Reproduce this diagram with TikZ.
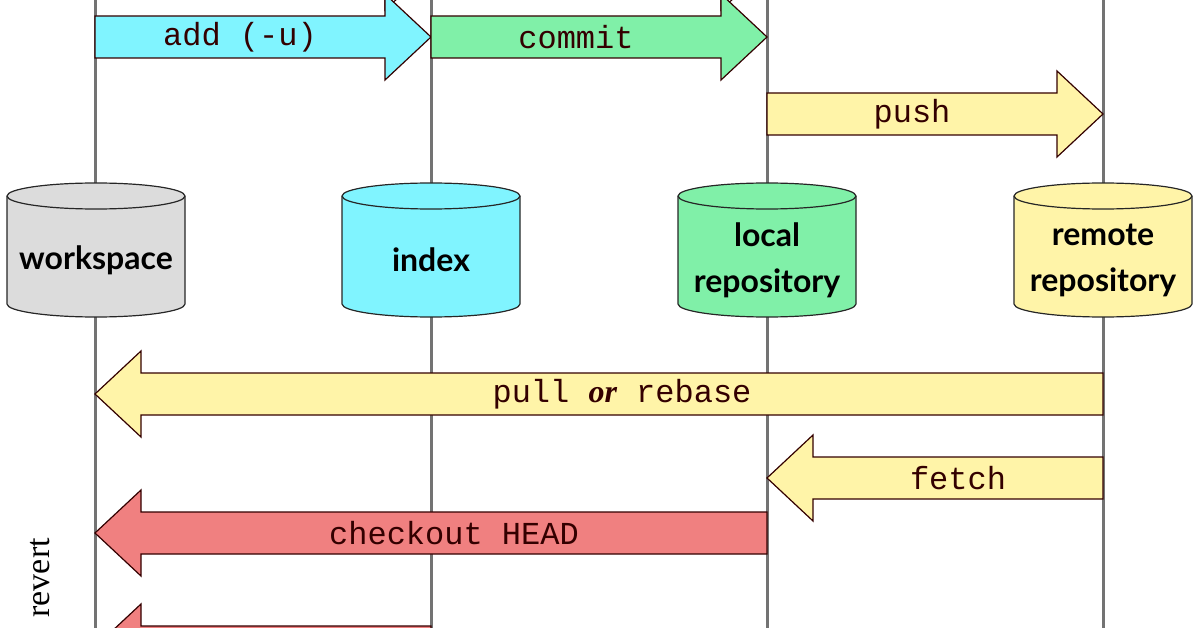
\documentclass[tikz,border=0pt]{standalone}
\usepackage{fontspec}
\setmainfont{Lato}
\newfontfamily\monof{Liberation Mono}
\newfontfamily\serf{Liberation Serif}
\definecolor{cgray}{HTML}{DCDCDC}
\definecolor{ccyan}{HTML}{80F4FF}
\definecolor{cgreen}{HTML}{80F0A8}
\definecolor{cyel}{HTML}{FFF4A8}
\definecolor{cred}{HTML}{F08080}
\newcommand\rarr[5]{% x1,x2,y,color,label
  \fill[#4,draw=black!80!red,line width=1.2pt] (#1,-#3+21) -- (#2-46,-#3+21) -- (#2-46,-#3+43) -- (#2,-#3) -- (#2-46,-#3-43) -- (#2-46,-#3-21) -- (#1,-#3-21) -- cycle;
  \node[lbl] at ({(#1+#2-46)/2},-#3) {#5};}
\newcommand\larr[5]{% x1(tip),x2,y,color,label
  \fill[#4,draw=black!80!red,line width=1.2pt] (#2,-#3+21) -- (#1+46,-#3+21) -- (#1+46,-#3+43) -- (#1,-#3) -- (#1+46,-#3-43) -- (#1+46,-#3-21) -- (#2,-#3-21) -- cycle;
  \node[lbl] at ({(#1+46+#2)/2},-#3) {#5};}
\newcommand\cyl[4]{% cx,color,name,label
  \fill[#2,draw=black!85,line width=1.2pt] (#1-89,-196) -- (#1-89,-304) arc[start angle=180,end angle=360,x radius=89,y radius=13] -- (#1+89,-196) arc[start angle=0,end angle=180,x radius=89,y radius=13] -- cycle;
  \draw[black!85,line width=1.2pt] (#1-89,-196) arc[start angle=180,end angle=360,x radius=89,y radius=13];
  \node[cyl] (#3) at (#1,-260) {#4};}
\begin{document}
\begin{tikzpicture}[x=1pt,y=1pt,
  lbl/.style={font=\monof\fontsize{32}{32}\selectfont,text=black!80!red,inner sep=0},
  cyl/.style={font=\bfseries\fontsize{32}{46}\selectfont,align=center,inner sep=0}]
\useasboundingbox (0,0) rectangle (1196,-628);
\clip (0,0) rectangle (1196,-628);
\foreach \x in {95,431,767,1103} \draw[gray!90!black,line width=3pt] (\x,0) -- (\x,-628);
\rarr{95}{431}{-33}{white}{}
\rarr{431}{767}{-33}{white}{}
\rarr{95}{431}{37}{ccyan}{add (-u)}
\rarr{431}{767}{37}{cgreen}{commit}
\rarr{767}{1103}{114}{cyel}{push}
\cyl{96}{cgray}{ws}{workspace}
\cyl{431}{ccyan}{idx}{index}
\cyl{767}{cgreen}{lr}{local\\repository}
\cyl{1103}{cyel}{rr}{remote\\repository}
\larr{95}{1103}{394}{cyel}{pull {\serf\itshape\bfseries or} rebase}
\larr{767}{1103}{478}{cyel}{fetch}
\larr{95}{767}{533}{cred}{checkout HEAD}
\larr{95}{431}{647}{cred}{}
\node[rotate=90,font=\serf\fontsize{34}{34}\selectfont,anchor=east,inner sep=0] (rv) at (40,-538) {revert};
\end{tikzpicture}
\end{document}
